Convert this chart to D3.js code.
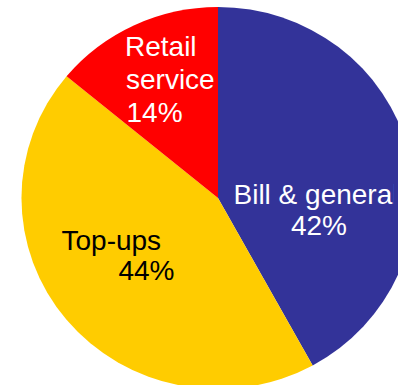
<!DOCTYPE html>
<html>
<head>
<meta charset="utf-8">
<script src="https://cdn.jsdelivr.net/npm/d3@7"></script>
<style>
  html, body { margin: 0; padding: 0; background: #fff; overflow: hidden; }
  svg { display: block; }
  text { font-family: "Liberation Sans", Arial, sans-serif; font-size: 28px; }
</style>
</head>
<body>
<svg id="chart" width="398" height="385"></svg>
<script>
// Share of contacts by category (percent)
const categories = ["Bill & general", "Top-ups", "Retail service"];
const shares = [42, 44, 14];
const colors = ["#333399", "#FFCC00", "#FF0000"];
const textColors = ["#ffffff", "#000000", "#ffffff"];
// Label lines for each slice (the last line carries the percentage)
const labelLines = [["Bill & general"], ["Top-ups"], ["Retail", "service"]];

const width = 398, height = 385;
const cx = 218, cy = 198;
const radius = 191;
const stretchX = 1.029;     // the pie is drawn slightly wider than tall
const labelClipRight = 393.5; // labels are cut off at the chart area's right edge

// Per-slice label placement, relative to the pie centre
const labelLayout = [
  { lines: [{ dx: 15.5, dy: 5.5, anchor: "start" }, { dx: 101, dy: 37, anchor: "middle" }] },
  { lines: [{ dx: -156.5, dy: 51.5, anchor: "start" }, { dx: -71.5, dy: 82, anchor: "middle" }] },
  { lines: [{ dx: -93, dy: -142, anchor: "start" }, { dx: -92, dy: -109.5, anchor: "start" }, { dx: -91.5, dy: -76.5, anchor: "start" }] }
];

const data = categories.map((c, i) => ({ category: c, value: shares[i], i }));

const svg = d3.select("#chart");

svg.append("defs").append("clipPath")
  .attr("id", "label-clip")
  .append("rect")
  .attr("x", 0).attr("y", 0)
  .attr("width", labelClipRight).attr("height", height);

const pie = d3.pie()
  .value(d => d.value)
  .sort(null)
  .startAngle(0)
  .endAngle(2 * Math.PI);

const arc = d3.arc().innerRadius(0).outerRadius(radius);

const g = svg.append("g")
  .attr("transform", `translate(${cx},${cy}) scale(${stretchX},1)`);

g.selectAll("path")
  .data(pie(data))
  .join("path")
  .attr("d", arc)
  .attr("fill", d => colors[d.data.i]);

// Labels
const labels = svg.append("g").attr("clip-path", "url(#label-clip)");
data.forEach((d, i) => {
  const lines = labelLines[i].concat([d3.format("d")(d.value) + "%"]);
  lines.forEach((txt, j) => {
    const p = labelLayout[i].lines[j];
    labels.append("text")
      .attr("x", cx + p.dx)
      .attr("y", cy + p.dy)
      .attr("text-anchor", p.anchor)
      .attr("fill", textColors[i])
      .text(txt);
  });
});
</script>
</body>
</html>
